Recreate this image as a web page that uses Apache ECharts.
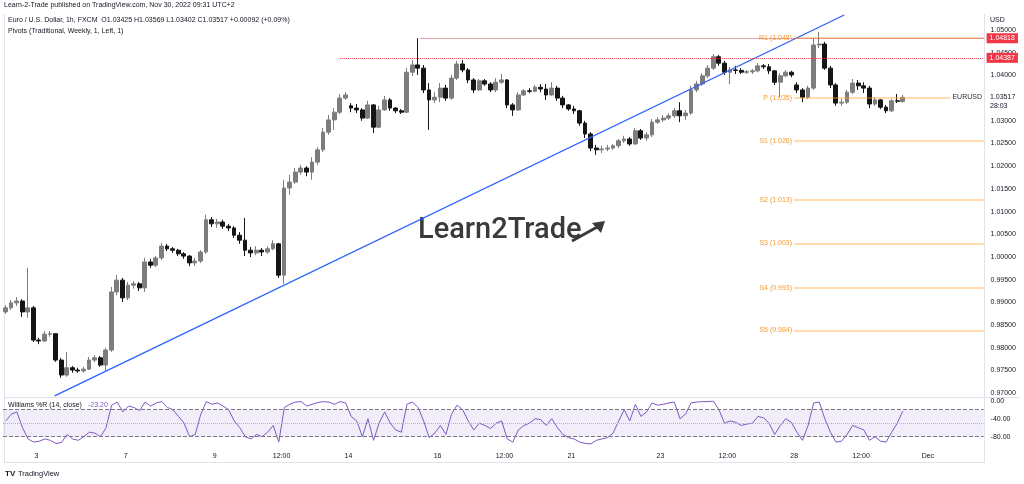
<!DOCTYPE html>
<html><head><meta charset="utf-8">
<script src="https://cdn.jsdelivr.net/npm/echarts@6/dist/echarts.min.js"></script>
<style>html,body{margin:0;padding:0;background:#fff}#c{width:1024px;height:484px}</style>
</head><body><div id="c"></div>
<script>
// ---- data (3-hour candles; hours counted from Nov 3 00:00, trading hours only)
const openPrices = [0.9879,0.9888,0.9899,0.9903,0.9879,0.9888,0.9817,0.9815,0.9830,0.9831,
0.9773,0.9740,0.9756,0.9751,0.9749,0.9753,0.9773,0.9778,0.9762,0.9795,
0.9923,0.9949,0.9910,0.9938,0.9941,0.9932,0.9989,0.9982,0.9998,1.0024,
1.0018,1.0015,1.0007,1.0002,0.9987,0.9991,1.0011,1.0082,1.0073,1.0077,
1.0068,1.0064,1.0048,1.0037,1.0015,1.0009,1.0015,1.0011,1.0018,1.0029,
0.9960,1.0152,1.0165,1.0187,1.0196,1.0187,1.0209,1.0236,1.0275,1.0302,
1.0319,1.0350,1.0333,1.0328,1.0324,1.0306,1.0335,1.0286,1.0324,1.0346,
1.0328,1.0322,1.0319,1.0407,1.0423,1.0416,1.0368,1.0346,1.0352,1.0372,
1.0350,1.0394,1.0425,1.0412,1.0390,1.0368,1.0388,1.0381,1.0368,1.0385,
1.0390,1.0335,1.0324,1.0357,1.0366,1.0365,1.0374,1.0370,1.0357,1.0372,
1.0350,1.0335,1.0326,1.0322,1.0295,1.0271,1.0240,1.0236,1.0238,1.0240,
1.0245,1.0256,1.0260,1.0249,1.0278,1.0262,1.0269,1.0297,1.0302,1.0306,
1.0311,1.0322,1.0311,1.0317,1.0368,1.0381,1.0399,1.0416,1.0441,1.0427,
1.0407,1.0412,1.0411,1.0407,1.0408,1.0410,1.0421,1.0419,1.0410,1.0385,
1.0399,1.0407,1.0379,1.0368,1.0352,1.0372,1.0467,1.0469,1.0416,1.0379,
1.0339,1.0341,1.0363,1.0383,1.0377,1.0372,1.0337,1.0346,1.0330,1.0322,
1.0344,1.03425];
const closePrices = [0.9888,0.9899,0.9903,0.9879,0.9888,0.9817,0.9815,0.9830,0.9831,0.9773,
0.9740,0.9756,0.9751,0.9749,0.9753,0.9773,0.9778,0.9762,0.9795,0.9923,
0.9949,0.9910,0.9938,0.9941,0.9932,0.9989,0.9982,0.9998,1.0024,1.0018,
1.0015,1.0007,1.0002,0.9987,0.9991,1.0011,1.0082,1.0073,1.0077,1.0068,
1.0064,1.0048,1.0037,1.0015,1.0009,1.0015,1.0011,1.0018,1.0029,0.9960,
1.0152,1.0165,1.0187,1.0196,1.0187,1.0209,1.0236,1.0275,1.0302,1.0319,
1.0350,1.0357,1.0328,1.0324,1.0306,1.0335,1.0286,1.0324,1.0346,1.0328,
1.0322,1.0319,1.0407,1.0423,1.0416,1.0368,1.0346,1.0352,1.0372,1.0350,
1.0394,1.0425,1.0412,1.0390,1.0368,1.0388,1.0381,1.0368,1.0385,1.0390,
1.0335,1.0324,1.0357,1.0366,1.0365,1.0374,1.0370,1.0357,1.0372,1.0350,
1.0335,1.0326,1.0322,1.0295,1.0271,1.0240,1.0236,1.0238,1.0240,1.0245,
1.0256,1.0260,1.0249,1.0278,1.0262,1.0269,1.0297,1.0302,1.0306,1.0311,
1.0322,1.0311,1.0317,1.0368,1.0381,1.0399,1.0416,1.0441,1.0427,1.0407,
1.0412,1.0411,1.0407,1.0408,1.0410,1.0421,1.0419,1.0410,1.0385,1.0399,
1.0407,1.0401,1.0368,1.0352,1.0372,1.0467,1.0469,1.0416,1.0379,1.0339,
1.0341,1.0363,1.0383,1.0377,1.0372,1.0337,1.0346,1.0330,1.0322,1.0344,
1.0343,1.03517];
const lowPrices = [0.9875,0.9883,0.9892,0.9868,0.9866,0.9813,0.9808,0.9813,0.9824,0.9769,
0.9734,0.9736,0.9745,0.9745,0.9745,0.9751,0.9769,0.9758,0.9747,0.9791,
0.9916,0.9901,0.9905,0.9930,0.9925,0.9923,0.9976,0.9978,0.9993,1.0013,
1.0009,1.0002,0.9996,0.9980,0.9980,0.9987,1.0007,1.0066,1.0064,1.0062,
1.0057,1.0042,1.0029,1.0002,1.0000,1.0004,1.0002,1.0007,1.0015,0.9954,
0.9941,1.0137,1.0161,1.0181,1.0178,1.0170,1.0203,1.0231,1.0269,1.0280,
1.0315,1.0346,1.0319,1.0317,1.0300,1.0304,1.0273,1.0284,1.0322,1.0322,
1.0317,1.0315,1.0317,1.0399,1.0401,1.0361,1.0280,1.0339,1.0341,1.0344,
1.0346,1.0390,1.0407,1.0383,1.0361,1.0366,1.0377,1.0363,1.0363,1.0381,
1.0328,1.0311,1.0322,1.0355,1.0361,1.0363,1.0363,1.0346,1.0355,1.0344,
1.0328,1.0322,1.0315,1.0289,1.0262,1.0233,1.0225,1.0229,1.0233,1.0236,
1.0240,1.0251,1.0245,1.0247,1.0258,1.0256,1.0264,1.0293,1.0297,1.0302,
1.0306,1.0297,1.0302,1.0313,1.0363,1.0377,1.0394,1.0412,1.0421,1.0401,
1.0381,1.0403,1.0403,1.0403,1.0403,1.0407,1.0414,1.0403,1.0379,1.0352,
1.0396,1.0396,1.0361,1.0341,1.0348,1.0368,1.0460,1.0412,1.0372,1.0333,
1.0333,1.0337,1.0359,1.0368,1.0361,1.0328,1.0333,1.0326,1.0317,1.0319,
1.0339,1.03402];
const highPrices = [0.9894,0.9905,0.9912,0.9907,0.9976,0.9892,0.9822,0.9837,0.9837,0.9832,
0.9778,0.9791,0.9760,0.9756,0.9758,0.9780,0.9784,0.9782,0.9800,0.9934,
0.9960,0.9954,0.9945,0.9947,0.9945,0.9998,0.9996,1.0002,1.0031,1.0029,
1.0022,1.0018,1.0011,1.0004,0.9998,1.0015,1.0093,1.0088,1.0084,1.0082,
1.0073,1.0068,1.0055,1.0086,1.0022,1.0024,1.0020,1.0024,1.0037,1.0031,
1.0170,1.0181,1.0196,1.0203,1.0200,1.0220,1.0242,1.0284,1.0313,1.0328,
1.0359,1.0363,1.0339,1.0337,1.0328,1.0344,1.0337,1.0333,1.0355,1.0350,
1.0330,1.0326,1.0416,1.0434,1.0482,1.0423,1.0383,1.0363,1.0383,1.0379,
1.0401,1.0432,1.0434,1.0416,1.0394,1.0392,1.0392,1.0385,1.0394,1.0403,
1.0392,1.0339,1.0363,1.0370,1.0372,1.0379,1.0381,1.0381,1.0385,1.0377,
1.0355,1.0337,1.0333,1.0324,1.0300,1.0275,1.0247,1.0245,1.0247,1.0249,
1.0260,1.0267,1.0264,1.0284,1.0282,1.0275,1.0304,1.0308,1.0313,1.0317,
1.0328,1.0341,1.0324,1.0377,1.0388,1.0405,1.0423,1.0447,1.0445,1.0432,
1.0419,1.0421,1.0416,1.0412,1.0414,1.0427,1.0425,1.0425,1.0412,1.0405,
1.0412,1.0410,1.0385,1.0372,1.0377,1.0482,1.0496,1.0474,1.0421,1.0383,
1.0348,1.0368,1.0392,1.0390,1.0385,1.0377,1.0352,1.0348,1.0335,1.0348,
1.0359,1.03569];
const williamsR = [-45,-30,-25,-60,-85,-92,-90,-85,-88,-95,
-93,-75,-85,-88,-80,-70,-72,-80,-60,-10,
-3,-25,-12,-15,-22,-3,-12,-5,-2,-15,
-20,-35,-50,-80,-75,-30,-2,-8,-5,-12,
-20,-45,-60,-80,-85,-75,-80,-70,-55,-92,
-15,-8,-3,-2,-12,-8,-4,-2,-3,-8,
-2,-5,-35,-45,-80,-40,-88,-50,-25,-50,
-65,-70,-8,-3,-15,-45,-82,-72,-55,-75,
-30,-10,-20,-45,-65,-50,-55,-62,-50,-45,
-85,-92,-65,-55,-50,-40,-42,-55,-40,-60,
-75,-82,-85,-92,-95,-96,-88,-85,-82,-72,
-45,-20,-45,-8,-35,-25,-5,-10,-8,-5,
-3,-40,-30,-5,-3,-2,-2,-1,-20,-50,
-45,-48,-55,-52,-50,-35,-38,-50,-75,-55,
-40,-48,-70,-88,-55,-5,-3,-40,-70,-92,
-90,-75,-55,-60,-65,-88,-80,-90,-92,-70,
-50,-23.2];
const firstBarHour = -18;   // first bucket start (Nov 2 06:00)
const barHours = 3;
const timeTickHours  = [0, 48, 96, 132, 168, 216, 252, 288, 336, 372, 408, 444, 480];
const timeTickLabels = ['3','7','9','12:00','14','16','12:00','21','23','12:00','28','12:00','Dec'];
const pivotNames  = ['R1','P','S1','S2','S3','S4','S5'];
const pivotValues = [1.0482, 1.0350, 1.0256, 1.0126, 1.0030, 0.9932, 0.9838];
const pivotStartHour = 408;
const rayPrices = [1.04818, 1.04387];
const rayStartHours = [207, 163.5];
const trendHours  = [10, 435];
const trendPrices = [0.9694, 1.0533];
const lastPrice = 1.03517;
const symbolName = 'EURUSD';
const countdown = '28:03';
const wrTicks = [0, -40, -80];
const wrCurrent = '-23.20';

// ---- chart
const chart = echarts.init(document.getElementById('c'));
const xMin = -18, xMax = 510;
const barMid = k => firstBarHour + barHours * k + barHours / 2;
const candles = openPrices.map((o, k) => [barMid(k), o, closePrices[k], lowPrices[k], highPrices[k]]);
const wrData = williamsR.map((v, k) => [barMid(k), v]);
const FONT = '"Liberation Sans", Arial, sans-serif';
const TXT = '#131722';
const near = (v, arr) => arr.findIndex(a => Math.abs(a - v) < 1e-6);

const marks = [];
pivotNames.forEach((n, i) => marks.push([
  {coord: [pivotStartHour, pivotValues[i]],
   lineStyle: {color: 'rgba(255,160,40,0.5)', width: 1.5, type: 'solid'},
   label: {show: true, position: 'start', formatter: n + ' (' + pivotValues[i].toFixed(3) + ')', color: '#f39c33', fontSize: 7, distance: 2, fontFamily: FONT}},
  {coord: [xMax, pivotValues[i]]}
]));
rayPrices.forEach((p, i) => marks.push([
  {coord: [rayStartHours[i], p],
   lineStyle: {color: '#f23645', width: 1, type: 'dotted'},
   label: {show: true, position: 'end', formatter: p.toFixed(5), color: '#fff', backgroundColor: '#f23645', padding: [2, 3, 1, 3], fontSize: 7, distance: 3, fontFamily: FONT}},
  {coord: [xMax, p]}
]));

const gline = (x1, y1, x2, y2) => ({type: 'line', shape: {x1, y1, x2, y2}, style: {stroke: '#e0e3eb', lineWidth: 1}, silent: true});
const gtext = (x, y, text, size, fill, extra) => ({type: 'text', x, y, style: Object.assign({text, fontSize: size, fill, fontFamily: FONT}, extra || {}), silent: true});

chart.setOption({
  animation: false,
  backgroundColor: '#ffffff',
  textStyle: {fontFamily: FONT},
  grid: [
    {left: 2.6, width: 981, top: 7.3, height: 408.6},
    {left: 2.6, width: 981, top: 400.7, height: 45}
  ],
  xAxis: [
    {type: 'value', gridIndex: 0, min: xMin, max: xMax, show: false},
    {type: 'value', gridIndex: 1, min: xMin, max: xMax, interval: 6,
     axisLine: {show: false}, axisTick: {show: false}, splitLine: {show: false},
     axisLabel: {fontSize: 7, color: TXT, margin: 7, fontFamily: FONT,
       formatter: v => { const i = near(v, timeTickHours); return i >= 0 ? timeTickLabels[i] : ''; }}}
  ],
  yAxis: [
    {type: 'value', gridIndex: 0, position: 'right', min: 0.965, max: 1.055, interval: 0.005,
     axisLine: {show: false}, axisTick: {show: false}, splitLine: {show: false},
     axisLabel: {fontSize: 7, color: TXT, margin: 7, fontFamily: FONT,
       formatter: v => (v > 0.9699 && v < 1.0501 && Math.abs(v - lastPrice) > 0.001) ? v.toFixed(5) : ''}},
    {type: 'value', gridIndex: 1, position: 'right', min: -100, max: 0, interval: 20,
     axisLine: {show: false}, axisTick: {show: false}, splitLine: {show: false},
     axisLabel: {fontSize: 7, color: TXT, margin: 7, fontFamily: FONT,
       formatter: v => near(v, wrTicks) >= 0 ? v.toFixed(2) : ''}}
  ],
  series: [
    {type: 'candlestick', xAxisIndex: 0, yAxisIndex: 0, data: candles, barWidth: 4.3,
     itemStyle: {color: '#7d7d7d', color0: '#151515', borderColor: '#7d7d7d', borderColor0: '#151515', borderWidth: 1}},
    {type: 'line', xAxisIndex: 0, yAxisIndex: 0, data: trendHours.map((h, i) => [h, trendPrices[i]]),
     showSymbol: false, symbol: 'none', lineStyle: {color: '#2962ff', width: 1.3}, z: 3,
     markLine: {silent: true, symbol: ['none', 'none'], animation: false, data: marks}},
    {type: 'line', xAxisIndex: 1, yAxisIndex: 1, data: wrData, showSymbol: false, symbol: 'none',
     lineStyle: {color: '#7e57c2', width: 1},
     markArea: {silent: true, itemStyle: {color: 'rgba(126,87,194,0.1)'}, data: [[{yAxis: -20}, {yAxis: -80}]]},
     markLine: {silent: true, symbol: ['none', 'none'], label: {show: false},
       data: [
         {yAxis: -20, lineStyle: {color: '#787b86', type: 'dashed', width: 1}},
         {yAxis: -50, lineStyle: {color: '#b2b5be', type: 'dotted', width: 1}},
         {yAxis: -80, lineStyle: {color: '#787b86', type: 'dashed', width: 1}}
       ]}}
  ],
  graphic: [
    gline(4.5, 14, 4.5, 463),
    gline(984.5, 14, 984.5, 463),
    gline(4, 397.5, 1020, 397.5),
    gline(4, 462.5, 985, 462.5),
    gtext(4, 2, 'Learn-2-Trade published on TradingView.com, Nov 30, 2022 09:31 UTC+2', 7, TXT),
    gtext(8, 17, 'Euro / U.S. Dollar, 1h, FXCM  O1.03425 H1.03569 L1.03402 C1.03517 +0.00092 (+0.09%)', 7, TXT),
    gtext(8, 28, 'Pivots (Traditional, Weekly, 1, Left, 1)', 7, TXT),
    gtext(990, 17, 'USD', 7, TXT),
    gtext(8, 402, 'Williams %R (14, close)', 7, TXT),
    gtext(88, 402, wrCurrent, 7, '#7e57c2'),
    gtext(418, 216, 'Learn2Trade', 29, '#3a3a3a', {fontFamily: 'Roboto', fontWeight: 500}),
    {type: 'polygon', shape: {points: [[592, 223], [605, 221], [601, 233]]}, style: {fill: '#3a3a3a'}, silent: true},
    {type: 'line', shape: {x1: 572, y1: 241, x2: 599, y2: 226}, style: {stroke: '#3a3a3a', lineWidth: 3}, silent: true},
    gtext(5, 470, 'TV', 8, TXT, {fontWeight: 'bold'}),
    gtext(18, 470, 'TradingView', 7.5, TXT)
  ]
});

// last-price labels placed through the price scale
const yLast = chart.convertToPixel({yAxisIndex: 0}, lastPrice);
chart.setOption({graphic: [
  {type: 'text', id: 'sym', x: 984, y: yLast, silent: true, z: 10,
   style: {text: symbolName, fontSize: 7, fill: '#2a2e39', fontFamily: FONT, align: 'right', verticalAlign: 'middle', backgroundColor: '#fff', padding: [2, 2]}},
  {type: 'text', id: 'lp', x: 990, y: yLast, silent: true,
   style: {text: lastPrice.toFixed(5), fontSize: 7, fill: TXT, fontFamily: FONT, verticalAlign: 'middle'}},
  {type: 'text', id: 'cd', x: 990, y: yLast + 9, silent: true,
   style: {text: countdown, fontSize: 7, fill: TXT, fontFamily: FONT, verticalAlign: 'middle'}}
]});
</script></body></html>
